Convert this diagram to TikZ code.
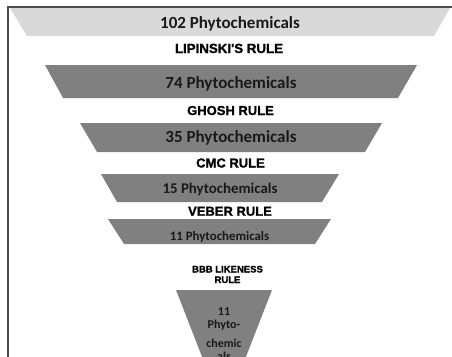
\documentclass[tikz,border=0pt]{standalone}
\usepackage{fontspec}
\setmainfont{Carlito}
\newfontfamily\rulefont{Liberation Sans}[BoldFeatures={FakeBold=1.2}]
\begin{document}
\begin{tikzpicture}[x=1pt,y=-1pt,
  lightband/.style={fill=black!15},
  darkband/.style={fill=black!50},
  count/.style={font=\bfseries\fontsize{#1}{#1}\selectfont, text=black!90, anchor=base, inner sep=0pt},
  rulelabel/.style={font=\rulefont\bfseries\fontsize{#1}{#1}\selectfont, text=black, anchor=base, inner sep=0pt},
  frameline/.style={draw=black!70, line width=1.3pt}]
\useasboundingbox (0,0) rectangle (452,356);
\clip (0,0) rectangle (452,356);

% filtering stages, widest first
\fill[lightband] (10,8) -- (450,8) -- (434,36) -- (27,36) -- cycle;
\fill[darkband] (45,65) -- (417,65) -- (398,98) -- (63,98) -- cycle;
\fill[darkband] (80,123) -- (382,123) -- (365,152) -- (97,152) -- cycle;
\fill[darkband] (101,174) -- (339,174) -- (322,202) -- (117,202) -- cycle;
\fill[darkband] (108,219) -- (331,219) -- (315,244) -- (124,244) -- cycle;
\fill[darkband] (176,290) -- (272,290) -- (224,413) -- cycle;

% frame
\draw[frameline] (8,360) -- (8,7) -- (456,7);

% compound counts
\node[count=17] (c102) at (230,28.5) {102 Phytochemicals};
\node[count=17] (c74) at (231,88) {74 Phytochemicals};
\node[count=17] (c35) at (231,142) {35 Phytochemicals};
\node[count=14.9] (c15) at (220,193) {15 Phytochemicals};
\node[count=12.9] (c11) at (219.5,240.5) {11 Phytochemicals};
\node[count=12] (c11n) at (224,315) {11};
\node[count=12] (c11p) at (224,328.3) {Phyto-};
\node[count=12] (c11c) at (224,347.3) {chemic};
\node[count=12] (c11a) at (224,360.5) {als};

% filter rules
\node[rulelabel=13.3] (lip) at (229,53) {LIPINSKI'S RULE};
\node[rulelabel=13] (gho) at (230.5,115) {GHOSH RULE};
\node[rulelabel=13] (cmc) at (230.5,167.5) {CMC RULE};
\node[rulelabel=13] (veb) at (230,215.7) {VEBER RULE};
\node[rulelabel=9.5] (bbb) at (227.5,272.5) {BBB LIKENESS};
\node[rulelabel=9.5] (bbbr) at (227.5,283) {RULE};
\end{tikzpicture}
\end{document}
